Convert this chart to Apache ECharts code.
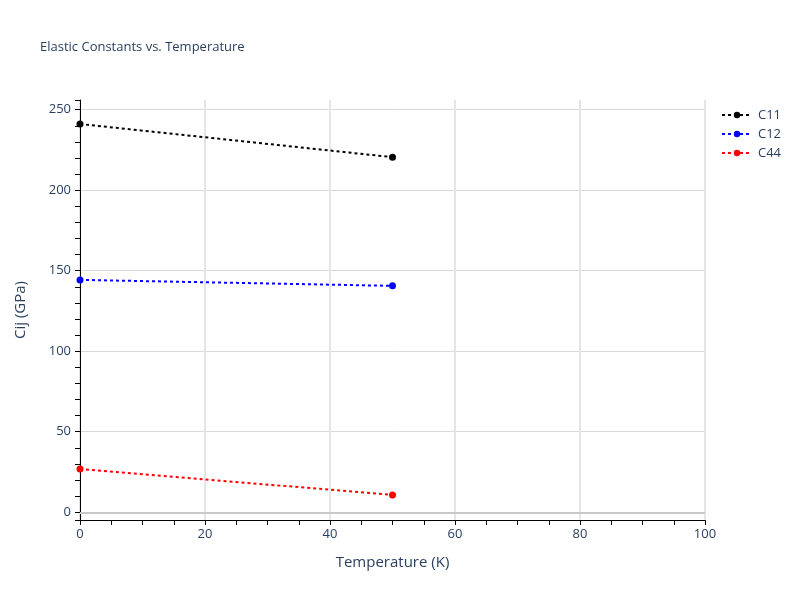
<!DOCTYPE html>
<html><head><meta charset="utf-8">
<script src="https://cdn.jsdelivr.net/npm/echarts@6/dist/echarts.min.js"></script>
<style>html,body{margin:0;padding:0;background:#fff}#c{width:800px;height:600px}</style>
</head><body><div id="c"></div>
<script>
const temperatures = [0, 50];
const c11 = [241.1, 220.5];
const c12 = [144.3, 140.6];
const c44 = [26.8, 10.8];
const seriesNames = ['C11', 'C12', 'C44'];
const seriesColors = ['#000000', '#0000ff', '#ff0000'];
const allValues = [c11, c12, c44];

const txt = '#2a3f5f';
const chart = echarts.init(document.getElementById('c'));
const series = seriesNames.map((n, i) => ({
  name: n, type: 'line',
  data: temperatures.map((t, j) => [t, allValues[i][j]]),
  symbol: 'circle', symbolSize: 7,
  itemStyle: { color: seriesColors[i] },
  lineStyle: { color: seriesColors[i], width: 2, type: [3, 3] },
  emphasis: { disabled: true },
  z: 3
}));
series[0].markLine = {
  silent: true, symbol: 'none', label: { show: false },
  lineStyle: { color: '#c8c8c8', width: 2, type: 'solid' },
  data: [{ yAxis: 0 }], z: 1
};
chart.setOption({
  animation: false,
  backgroundColor: '#fff',
  title: { text: 'Elastic Constants vs. Temperature', left: 35, top: 36,
    textStyle: { fontFamily: 'Open Sans', fontSize: 13, fontWeight: 'normal', color: txt } },
  legend: {
    orient: 'vertical', left: 716, top: 103, itemGap: 5, itemWidth: 30, itemHeight: 8,
    textStyle: { fontFamily: 'Open Sans', fontSize: 13, lineHeight: 14, color: txt, padding: [0, 0, 0, 1] },
    data: seriesNames
  },
  grid: { left: 80, right: 95, top: 100, bottom: 80, containLabel: false },
  xAxis: {
    type: 'value', min: 0, max: 100, interval: 20,
    name: 'Temperature (K)', nameLocation: 'middle', nameGap: 35,
    nameTextStyle: { fontFamily: 'Open Sans', fontSize: 15, color: txt },
    axisLine: { show: true, onZero: false, lineStyle: { color: '#000', width: 1 } },
    axisTick: { show: true, length: 5, lineStyle: { color: '#000' } },
    minorTick: { show: true, splitNumber: 4, length: 5, lineStyle: { color: '#000' } },
    axisLabel: { fontFamily: 'Open Sans', fontSize: 13, color: txt, margin: 8 },
    splitLine: { show: true, lineStyle: { color: '#e5e5e5', width: 2 } }
  },
  yAxis: {
    type: 'value', min: -4.8, max: 256, splitNumber: 5,
    name: 'Cij (GPa)', nameLocation: 'middle', nameGap: 52, nameRotate: 90,
    nameTextStyle: { fontFamily: 'Open Sans', fontSize: 15, color: txt },
    axisLine: { show: true, onZero: false, lineStyle: { color: '#000', width: 1 } },
    axisTick: { show: true, length: 5, lineStyle: { color: '#000' } },
    minorTick: { show: true, splitNumber: 5, length: 5, lineStyle: { color: '#000' } },
    axisLabel: { fontFamily: 'Open Sans', fontSize: 13, color: txt, margin: 9,
      showMinLabel: false, showMaxLabel: false },
    splitLine: { show: true, showMinLine: false, showMaxLine: false, lineStyle: { color: '#d9d9d9', width: 1 } }
  },
  series: series
});
</script></body></html>
